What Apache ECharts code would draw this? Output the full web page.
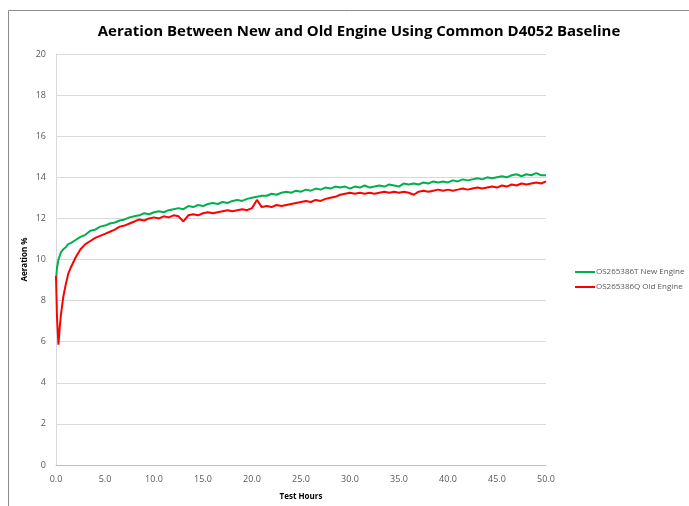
<!DOCTYPE html>
<html>
<head>
<meta charset="utf-8">
<script src="https://cdn.jsdelivr.net/npm/echarts@6/dist/echarts.min.js"></script>
<style>
  html, body { margin: 0; padding: 0; background: #fff; }
  #chart { width: 689px; height: 506px; }
</style>
</head>
<body>
<div id="chart"></div>
<script>
// test hours (x values)
const hours = [
  0, 0.1, 0.25, 0.4, 0.5, 0.75, 1, 1.25, 1.5, 2, 2.5, 3, 3.5, 4, 4.5, 5,
  5.5, 6, 6.5, 7, 7.5, 8, 8.5, 9, 9.5, 10, 10.5, 11, 11.5, 12, 12.5, 13,
  13.5, 14, 14.5, 15, 15.5, 16, 16.5, 17, 17.5, 18, 18.5, 19, 19.5, 20,
  20.5, 21, 21.5, 22, 22.5, 23, 23.5, 24, 24.5, 25, 25.5, 26, 26.5, 27,
  27.5, 28, 28.5, 29, 29.5, 30, 30.5, 31, 31.5, 32, 32.5, 33, 33.5, 34,
  34.5, 35, 35.5, 36, 36.5, 37, 37.5, 38, 38.5, 39, 39.5, 40, 40.5, 41,
  41.5, 42, 42.5, 43, 43.5, 44, 44.5, 45, 45.5, 46, 46.5, 47, 47.5, 48,
  48.5, 49, 49.5, 50
];
// OS265386T New Engine, aeration %
const newEngine = [
  9.0, 9.6, 10.0, 10.2, 10.35, 10.5, 10.6, 10.75, 10.8, 10.95, 11.1, 11.2, 11.4, 11.45, 11.6, 11.65,
  11.75, 11.8, 11.9, 11.95, 12.05, 12.1, 12.15, 12.25, 12.2, 12.3, 12.35, 12.3, 12.4, 12.45, 12.5, 12.45,
  12.6, 12.55, 12.65, 12.6, 12.7, 12.75, 12.7, 12.8, 12.75, 12.85, 12.9, 12.85, 12.95, 13.0,
  13.05, 13.1, 13.1, 13.2, 13.15, 13.25, 13.3, 13.25, 13.35, 13.3, 13.4, 13.35, 13.45, 13.4,
  13.5, 13.45, 13.55, 13.5, 13.55, 13.45, 13.55, 13.5, 13.6, 13.5, 13.55, 13.6, 13.55, 13.65,
  13.6, 13.55, 13.7, 13.65, 13.7, 13.65, 13.75, 13.7, 13.8, 13.75, 13.8, 13.75, 13.85, 13.8,
  13.9, 13.85, 13.9, 13.95, 13.9, 14.0, 13.95, 14.0, 14.05, 14.0, 14.1, 14.15, 14.05, 14.15,
  14.1, 14.2, 14.1, 14.1
];
// OS265386Q Old Engine, aeration %
const oldEngine = [
  9.2, 7.2, 5.85, 6.8, 7.3, 8.2, 8.8, 9.3, 9.6, 10.1, 10.5, 10.75, 10.9, 11.05, 11.15, 11.25,
  11.35, 11.45, 11.6, 11.65, 11.75, 11.85, 11.95, 11.9, 12.0, 12.05, 12.0, 12.1, 12.05, 12.15, 12.1, 11.85,
  12.15, 12.2, 12.15, 12.25, 12.3, 12.25, 12.3, 12.35, 12.4, 12.35, 12.4, 12.45, 12.4, 12.5,
  12.9, 12.55, 12.6, 12.55, 12.65, 12.6, 12.65, 12.7, 12.75, 12.8, 12.85, 12.8, 12.9, 12.85,
  12.95, 13.0, 13.05, 13.15, 13.2, 13.25, 13.2, 13.25, 13.2, 13.25, 13.2, 13.25, 13.3, 13.25,
  13.3, 13.25, 13.3, 13.25, 13.15, 13.3, 13.35, 13.3, 13.35, 13.4, 13.35, 13.4, 13.35, 13.4,
  13.45, 13.4, 13.45, 13.5, 13.45, 13.5, 13.55, 13.5, 13.6, 13.55, 13.65, 13.6, 13.7, 13.65,
  13.7, 13.75, 13.7, 13.8
];
const seriesNames = ["OS265386T New Engine", "OS265386Q Old Engine"];
const seriesColors = ["#00b050", "#ff0000"];

const fontFamily = "Open Sans";
const pairs = (ys) => hours.map((h, i) => [h, ys[i]]);

let myChart = echarts.init(document.getElementById("chart"));
let option = {
  animation: false,
  textStyle: { fontFamily: fontFamily },
  title: {
    text: "Aeration Between New and Old Engine Using Common D4052 Baseline",
    left: 354,
    textAlign: "center",
    top: 19,
    textStyle: { fontSize: 15, fontWeight: "bold", color: "#000", fontFamily: fontFamily }
  },
  graphic: [
    {
      type: "rect",
      shape: { x: 8.5, y: 10.5, width: 720, height: 540 },
      style: { fill: "none", stroke: "#8c8c8c", lineWidth: 1 }
    }
  ],
  legend: {
    orient: "vertical",
    left: 570,
    top: 263,
    itemGap: 7,
    itemWidth: 20,
    itemHeight: 10,
    icon: "path://M0,4 L20,4 L20,6 L0,6 Z",
    textStyle: { fontSize: 8, color: "#595959", padding: [0, 0, 0, -4] },
    data: seriesNames
  },
  color: seriesColors,
  grid: { left: 56, right: 143, top: 54, bottom: 40 },
  xAxis: {
    type: "value",
    min: 0,
    max: 50,
    interval: 5,
    name: "Test Hours",
    nameLocation: "middle",
    nameGap: 28,
    nameMoveOverlap: false,
    nameTextStyle: { fontSize: 8, fontWeight: "bold", color: "#000" },
    axisLine: { lineStyle: { color: "#bfbfbf" } },
    axisTick: { show: false },
    splitLine: { show: false },
    axisLabel: {
      fontSize: 9,
      color: "#595959",
      margin: 10,
      formatter: (v) => v.toFixed(1)
    }
  },
  yAxis: {
    type: "value",
    min: 0,
    max: 20,
    interval: 2,
    name: "Aeration %",
    nameLocation: "middle",
    nameGap: 27,
    nameMoveOverlap: false,
    nameRotate: 90,
    nameTextStyle: { fontSize: 8, fontWeight: "bold", color: "#000" },
    axisLine: { show: true, lineStyle: { color: "#d9d9d9" } },
    axisTick: { show: false },
    splitLine: { lineStyle: { color: "#d9d9d9", width: 1 } },
    axisLabel: { fontSize: 9, color: "#595959", margin: 10 }
  },
  series: [
    {
      name: seriesNames[0],
      type: "line",
      data: pairs(newEngine),
      symbol: "none",
      lineStyle: { width: 2, color: seriesColors[0] },
      z: 3
    },
    {
      name: seriesNames[1],
      type: "line",
      data: pairs(oldEngine),
      symbol: "none",
      lineStyle: { width: 2, color: seriesColors[1] },
      z: 4
    }
  ]
};
myChart.setOption(option, true);
</script>
</body>
</html>
